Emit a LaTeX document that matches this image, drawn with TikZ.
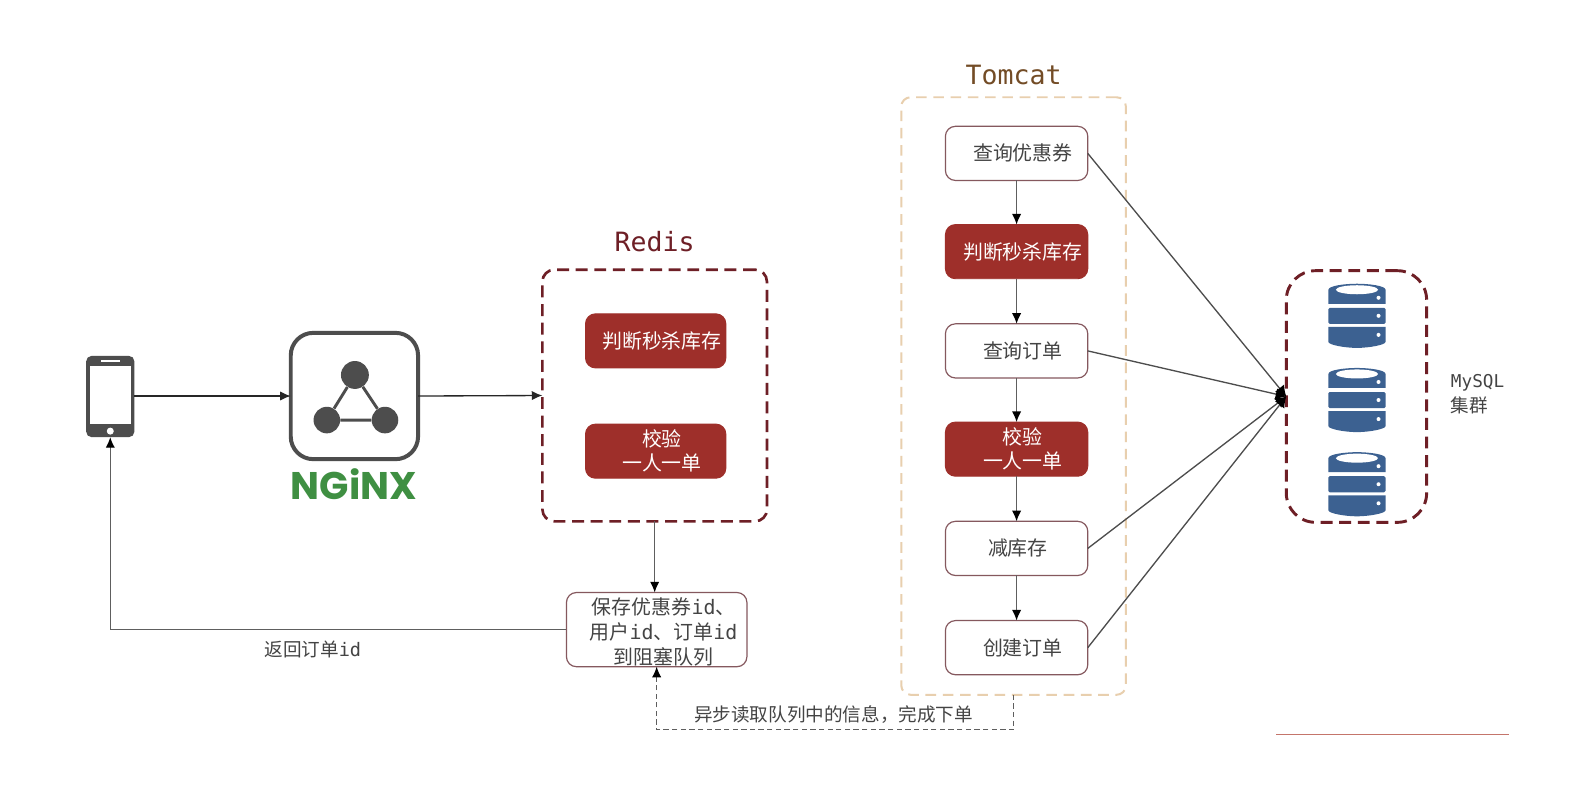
\documentclass[tikz,border=0pt]{standalone}
\usepackage{fontspec}
\setmainfont{Noto Sans CJK SC}
\newfontfamily\monof{DejaVu Sans Mono}
\newfontfamily\logof{Poppins}
\usetikzlibrary{arrows.meta,positioning,calc}
\definecolor{txt}{HTML}{444444}
\definecolor{redfill}{HTML}{9E2F2A}
\definecolor{redline}{HTML}{6E1F26}
\definecolor{tanline}{HTML}{E8CFAE}
\definecolor{boxline}{HTML}{85585E}
\definecolor{icon}{HTML}{4D4D4D}
\definecolor{flowgrey}{HTML}{5E5E5E}
\definecolor{dbblue}{HTML}{3C6191}
\definecolor{nginxgreen}{HTML}{3F8F42}
\definecolor{rulered}{HTML}{C4756B}
\newcommand{\offs}{\hspace*{9.5pt}}
\newcommand{\offq}{\hspace*{10.5pt}}
\newcommand{\dbicon}[2]{%
  \begin{scope}[shift={(#1,#2)}]
    \fill[dbblue] (-28.5,20) -- (-28.5,6) .. controls (-28.5,2) and (-12,0) .. (0,0) .. controls (12,0) and (28.5,2) .. (28.5,6) -- (28.5,20) -- cycle;
    \fill[white] (0,6) ellipse [x radius=21, y radius=4.5];
    \fill[white] (21.5,14) circle [radius=2];
    \fill[dbblue,rounded corners=1pt] (-28.5,24) rectangle (28.5,40);
    \fill[white] (21.5,32) circle [radius=2];
    \fill[dbblue] (-28.5,43) -- (28.5,43) -- (28.5,58) .. controls (28.5,61) and (12,64) .. (0,64) .. controls (-12,64) and (-28.5,61) .. (-28.5,58) -- cycle;
    \fill[white] (21.5,51) circle [radius=2];
  \end{scope}}
\tikzset{
  x=0.752bp,y=-0.752bp,
  sz/.style 2 args={minimum width=#1*0.752bp,minimum height=#2*0.752bp,inner sep=0pt,outer sep=0pt},
  whitebox/.style={draw=boxline,line width=0.9pt,fill=white,rounded corners=7.5pt,text=txt,font=\fontsize{15}{18}\selectfont,align=center},
  redbox/.style={draw=redfill,line width=0.7pt,fill=redfill,rounded corners=7.5pt,text=white,font=\fontsize{15}{18}\selectfont,align=center},
  conn/.style={line width=1pt,draw=black!85,-{Latex[length=8pt,width=7pt]}},
  flowarrow/.style={line width=1pt,draw=flowgrey,-{Latex[length=8pt,width=7pt,black]}},
  dbline/.style={line width=1pt,draw=icon,-{Latex[length=8pt,width=9pt,black]}},
  grouptitle/.style={font=\monof\fontsize{20}{24}\selectfont},
  plainlabel/.style={text=txt,font=\fontsize{14}{17}\selectfont,align=left,inner sep=0pt},
}
\begin{document}
\begin{tikzpicture}
\useasboundingbox (0,0) rectangle (1568,784);
\fill[white] (0,0) rectangle (1568,784);

% phone
\node[sz={48}{81},fill=icon,rounded corners=4pt] (phone) at (110,395.5) {};
\fill[white] (89.5,365) rectangle (131,423);
\fill[white] (110,430) circle [radius=3.5];
\draw[white,line width=0.9pt] (101,360) -- (120,360);

% nginx
\node[sz={127}{126},draw=icon,line width=3pt,rounded corners=17pt,fill=white] (nginx) at (353.5,395) {};
\node[circle,fill=icon,minimum size=21pt,inner sep=0pt] (ntop) at (354,374) {};
\node[circle,fill=icon,minimum size=20pt,inner sep=0pt] (nleft) at (326,419) {};
\node[circle,fill=icon,minimum size=20pt,inner sep=0pt] (nright) at (384,419) {};
\draw[icon,line width=2.2pt] (ntop) -- (nleft) -- (nright) -- (ntop);
\node[text=nginxgreen,font=\logof\bfseries\fontsize{29}{30}\selectfont,inner sep=0pt] (nginxlogo) at (353,483) {NGiNX};

% redis
\node[sz={224}{251},draw=redline,line width=2pt,dashed,dash pattern=on 9pt off 5pt,rounded corners=9pt] (redis) at (653,394.5) {};
\node[text=redline,grouptitle,inner sep=0pt] (redistitle) at (653,241) {Redis};
\node[sz={140}{54},redbox] (r1) at (654,340) {\offs 判断秒杀库存};
\node[sz={140}{54},redbox] (r2) at (654,450) {\offs 校验\\\offs 一人一单};

% queue
\node[sz={180}{74},whitebox] (queue) at (655,628) {\rule{0pt}{16.5pt}\offq 保存优惠券{\monof id}、\\[1pt]\offq 用户{\monof id}、订单{\monof id}\\[1pt]\offq 到阻塞队列};
\node[plainlabel] (backlabel) at (312,648) {返回订单{\monof id}};

% tomcat
\node[sz={224}{596},draw=tanline,line width=1.5pt,dashed,dash pattern=on 8pt off 5pt,rounded corners=7pt] (tomcat) at (1011,395) {};
\node[text=brown!60!black,grouptitle,inner sep=0pt] (tomcattitle) at (1011,75) {Tomcat};
\node[sz={142}{54},whitebox] (t1) at (1014,153) {\offs 查询优惠券};
\node[sz={142}{54},redbox] (t2) at (1014,251) {\offs 判断秒杀库存};
\node[sz={142}{54},whitebox] (t3) at (1014,350) {\offs 查询订单};
\node[sz={142}{54},redbox] (t4) at (1014,448) {\offs 校验\\\offs 一人一单};
\node[sz={142}{54},whitebox] (t5) at (1014,547) {\hspace*{2pt}减库存};
\node[sz={142}{54},whitebox] (t6) at (1014,646) {\offs 创建订单};

% mysql
\node[sz={140}{251},draw=redline,line width=2.2pt,dashed,dash pattern=on 9pt off 5pt,rounded corners=22pt] (mysql) at (1353,395.5) {};
\dbicon{1353.5}{283}
\dbicon{1353.5}{367}
\dbicon{1353.5}{451}
\node[plainlabel,anchor=west,font=\fontsize{14}{19}\selectfont] (mysqllabel) at (1447,393) {{\monof\fontsize{13.3}{16}\selectfont MySQL}\\集群};

% connectors
\draw[conn] (phone.east |- nginx.west) -- (nginx.west);
\draw[conn] (nginx.east) -- (redis.west);
\draw[flowarrow] (redis.south) -- (queue.north -| redis.south);
\draw[flowarrow] (queue.west) -| (phone.south);
\coordinate (dashcorner) at (655,728);
\draw[line width=0.8pt,draw=flowgrey,dashed,dash pattern=on 4pt off 2.5pt,-{Latex[length=8pt,width=7pt,black]}] (tomcat.south) |- (dashcorner) -- (queue.south);
\node[plainlabel] (asynclabel) at (831.5,713) {异步读取队列中的信息，完成下单};

\draw[flowarrow] (t1) -- (t2);
\draw[flowarrow] (t2) -- (t3);
\draw[flowarrow] (t3) -- (t4);
\draw[flowarrow] (t4) -- (t5);
\draw[flowarrow] (t5) -- (t6);

\foreach \src in {t1,t3,t5,t6} {\draw[dbline] (\src.east) -- (mysql.west);}

% stray rule
\coordinate (rulea) at (1273,733);
\coordinate (ruleb) at (1505,733);
\draw[line width=0.8pt,draw=rulered] (rulea) -- (ruleb);
\end{tikzpicture}
\end{document}
